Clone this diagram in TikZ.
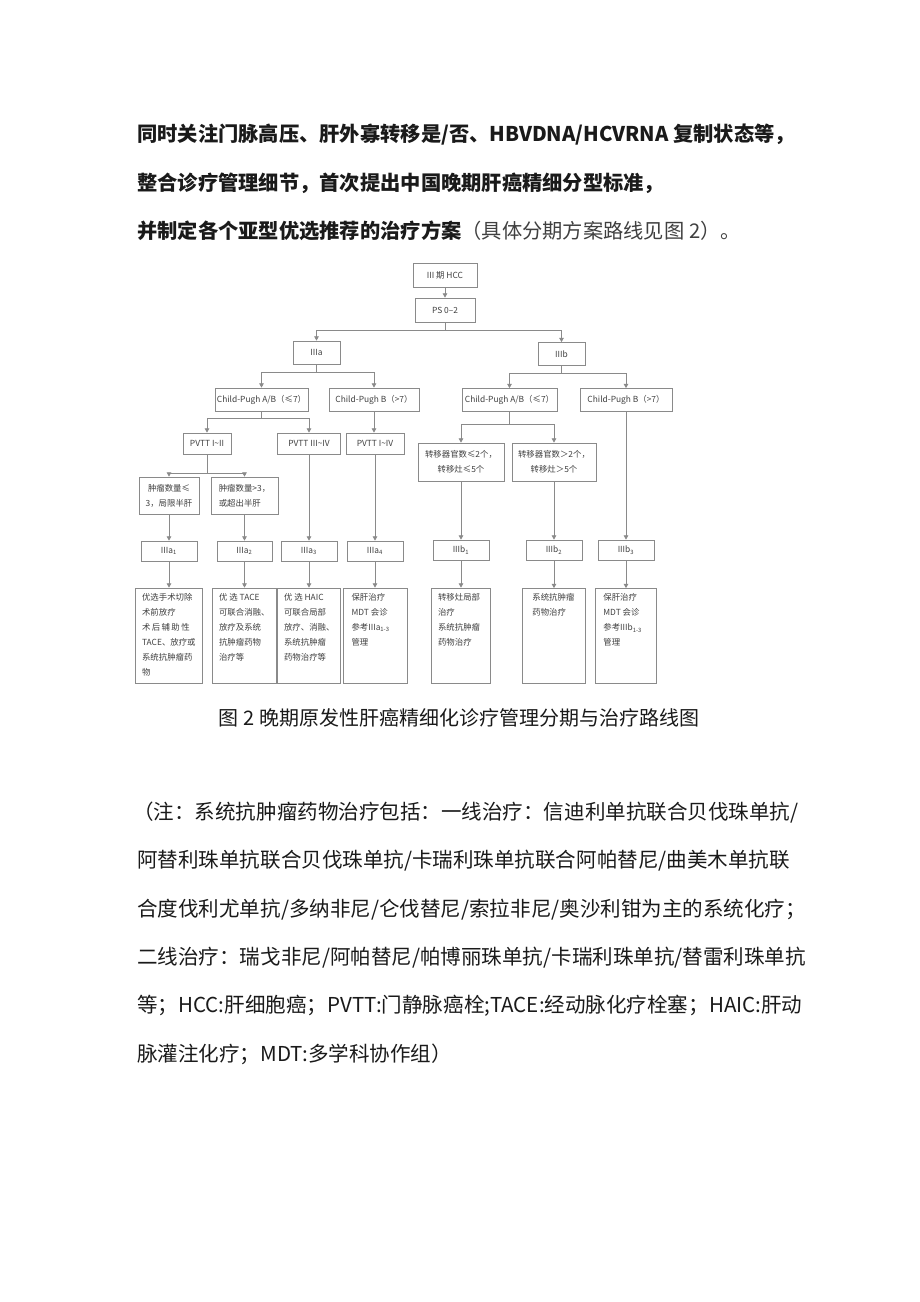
\documentclass[tikz,border=0pt]{standalone}
\usepackage{fontspec}
\setmainfont{Noto Sans CJK SC}
\usetikzlibrary{arrows.meta,positioning}

\definecolor{boxgray}{HTML}{8A8A8A}
\definecolor{txtgray}{HTML}{404040}
\definecolor{inkblack}{HTML}{1A1A1A}

\begin{document}
\begin{tikzpicture}[x=0.75pt, y=-0.75pt,
  para/.style={anchor=west, inner sep=0pt, text=inkblack, font=\fontsize{15.4}{18}\selectfont},
  hdr/.style={para, font=\fontsize{15.2}{18}\selectfont\bfseries},
  box/.style={draw=boxgray, line width=0.55pt, inner sep=0pt, text=txtgray, align=center,
    font=\fontsize{6.3}{11.25}\selectfont},
  stagebox/.style={box, minimum width=42pt, minimum height=15pt},
  tbox/.style={box, minimum height=71.25pt},
  tbtext/.style={anchor=north west, inner sep=0pt, align=left, text=txtgray,
    font=\fontsize{6.3}{11.25}\selectfont},
  ptr/.style={-{Triangle[length=3.2pt,width=3.4pt]}, draw=boxgray, line width=0.55pt}
]
\fill[white] (0,0) rectangle (920,1302);
\useasboundingbox (0,0) rectangle (920,1302);

% header text
\node[hdr] (h1) at (137,135) {同时关注门脉高压、肝外寡转移是/否、HBVDNA/HCVRNA 复制状态等，};
\node[hdr] (h2) at (137,183) {整合诊疗管理细节，首次提出中国晚期肝癌精细分型标准，};
\node[hdr] (h3) at (137,231) {并制定各个亚型优选推荐的治疗方案{\mdseries\color{txtgray}（具体分期方案路线见图 2）。}};

% flow chart
\node[box, minimum width=48pt, minimum height=18pt] (hcc) at (445,275) {III 期 HCC};
\node[box, minimum width=45pt, minimum height=18pt] (ps) at (445,310) {PS 0–2};
\node[box, minimum width=35.25pt, minimum height=17.25pt] (iiia) at (316.5,352.5) {IIIa};
\node[box, minimum width=35.25pt, minimum height=17.25pt] (iiib) at (561.5,354) {IIIb};
\node[box, minimum width=69.75pt, minimum height=17.25pt] (cpaA) at (261.5,399.5) {Child-Pugh A/B（≤7）};
\node[box, minimum width=67.5pt, minimum height=17.25pt] (cpaB) at (374,399.5) {Child-Pugh B（>7）};
\node[box, minimum width=71.25pt, minimum height=17.25pt] (cpbA) at (509.5,400) {Child-Pugh A/B（≤7）};
\node[box, minimum width=69pt, minimum height=17.25pt] (cpbB) at (626,400) {Child-Pugh B（>7）};
\node[box, minimum width=36pt, minimum height=15.75pt] (pvtta) at (207,443.5) {PVTT I\textasciitilde II};
\node[box, minimum width=47.25pt, minimum height=15.75pt] (pvttb) at (309,443.5) {PVTT III\textasciitilde IV};
\node[box, minimum width=43.5pt, minimum height=15.75pt] (pvttc) at (375,443.5) {PVTT I\textasciitilde IV};
\node[box, minimum width=45pt, minimum height=27.75pt] (tuma) at (169,495.5) {肿瘤数量≤\\3，局限半肝};
\node[box, minimum width=50.25pt, minimum height=27.75pt, align=left] (tumb) at (244.5,495.5) {肿瘤数量>3，\\或超出半肝};
\node[box, minimum width=64.5pt, minimum height=28.5pt] (meta) at (461,462) {转移器官数≤2个，\\转移灶≤5个};
\node[box, minimum width=63pt, minimum height=28.5pt] (metb) at (554,462) {转移器官数＞2个，\\转移灶＞5个};

% stages
\node[stagebox] (sa1) at (169,551) {IIIa\textsubscript{1}};
\node[stagebox, minimum width=41.25pt] (sa2) at (244.5,551) {IIIa\textsubscript{2}};
\node[stagebox] (sa3) at (309,551) {IIIa\textsubscript{3}};
\node[stagebox] (sa4) at (375,551) {IIIa\textsubscript{4}};
\node[stagebox] (sb1) at (461,550) {IIIb\textsubscript{1}};
\node[stagebox] (sb2) at (554,550) {IIIb\textsubscript{2}};
\node[stagebox] (sb3) at (626,550) {IIIb\textsubscript{3}};

% treatments
\node[tbox, minimum width=50.25pt] (ta1) at (169,635.5) {};
\node[tbox, minimum width=48pt] (ta2) at (244.5,635.5) {};
\node[tbox, minimum width=47.25pt] (ta3) at (309,635.5) {};
\node[tbox, minimum width=48pt] (ta4) at (375,635.5) {};
\node[tbox, minimum width=44.25pt] (tb1) at (461,635.5) {};
\node[tbox, minimum width=47.25pt] (tb2) at (554,636) {};
\node[tbox, minimum width=45.75pt] (tb3) at (626,636) {};
\node[tbtext] (ta1t) at ([xshift=5pt,yshift=-4pt]ta1.north west) {优选手术切除\\术前放疗\\术\,后\,辅\,助\,性\\TACE、放疗或\\系统抗肿瘤药\\物};
\node[tbtext] (ta2t) at ([xshift=5pt,yshift=-4pt]ta2.north west) {优 选 TACE\\可联合消融、\\放疗及系统\\抗肿瘤药物\\治疗等};
\node[tbtext] (ta3t) at ([xshift=5pt,yshift=-4pt]ta3.north west) {优 选 HAIC\\可联合局部\\放疗、消融、\\系统抗肿瘤\\药物治疗等};
\node[tbtext] (ta4t) at ([xshift=6.5pt,yshift=-4pt]ta4.north west) {保肝治疗\\MDT 会诊\\参考IIIa\textsubscript{1-3}\\管理};
\node[tbtext] (tb1t) at ([xshift=5pt,yshift=-4pt]tb1.north west) {转移灶局部\\治疗\\系统抗肿瘤\\药物治疗};
\node[tbtext] (tb2t) at ([xshift=7.5pt,yshift=-4pt]tb2.north west) {系统抗肿瘤\\药物治疗};
\node[tbtext] (tb3t) at ([xshift=6pt,yshift=-4pt]tb3.north west) {保肝治疗\\MDT 会诊\\参考IIIb\textsubscript{1-3}\\管理};

% connectors
\draw[ptr] (hcc) -- (ps);
\draw[ptr] (ps.south) -- ++(0,8) -| (iiia.north);
\draw[ptr] (ps.south) -- ++(0,8) -| (iiib.north);
\draw[ptr] (iiia.south) -- ++(0,8) -| (cpaA.north);
\draw[ptr] (iiia.south) -- ++(0,8) -| (cpaB.north);
\draw[ptr] (iiib.south) -- ++(0,7.5) -| (cpbA.north);
\draw[ptr] (iiib.south) -- ++(0,7.5) -| (cpbB.north);
\draw[ptr] (cpaA.south) -- ++(0,7) -| (pvtta.north);
\draw[ptr] (cpaA.south) -- ++(0,7) -| (pvttb.north);
\draw[ptr] (cpaB.south) -- (cpaB.south |- pvttc.north);
\draw[ptr] (cpbA.south) -- ++(0,12.5) -| (meta.north);
\draw[ptr] (cpbA.south) -- ++(0,12.5) -| (metb.north);
\draw[ptr] (cpbB) -- (sb3);
\draw[ptr] (pvtta.south) -- ++(0,19) -| (tuma.north);
\draw[ptr] (pvtta.south) -- ++(0,19) -| (tumb.north);
\foreach \a/\b in {tuma/sa1, tumb/sa2, pvttb/sa3, pvttc/sa4, meta/sb1, metb/sb2,
                   sa1/ta1, sa2/ta2, sa3/ta3, sa4/ta4, sb1/tb1, sb2/tb2, sb3/tb3}
  \draw[ptr] (\a) -- (\b);

% caption and notes
\node[para, anchor=center, font=\fontsize{15}{18}\selectfont] (cap) at (459,718) {图 2 晚期原发性肝癌精细化诊疗管理分期与治疗路线图};
\node[para] (n1) at (133,813) {（注：系统抗肿瘤药物治疗包括：一线治疗：信迪利单抗联合贝伐珠单抗/};
\node[para] (n2) at (137,861) {阿替利珠单抗联合贝伐珠单抗/卡瑞利珠单抗联合阿帕替尼/曲美木单抗联};
\node[para] (n3) at (137,910) {合度伐利尤单抗/多纳非尼/仑伐替尼/索拉非尼/奥沙利钳为主的系统化疗；};
\node[para] (n4) at (137,958) {二线治疗：瑞戈非尼/阿帕替尼/帕博丽珠单抗/卡瑞利珠单抗/替雷利珠单抗};
\node[para] (n5) at (137,1006) {等；HCC:肝细胞癌；PVTT:门静脉癌栓;TACE:经动脉化疗栓塞；HAIC:肝动};
\node[para] (n6) at (137,1054) {脉灌注化疗；MDT:多学科协作组）};
\end{tikzpicture}
\end{document}
